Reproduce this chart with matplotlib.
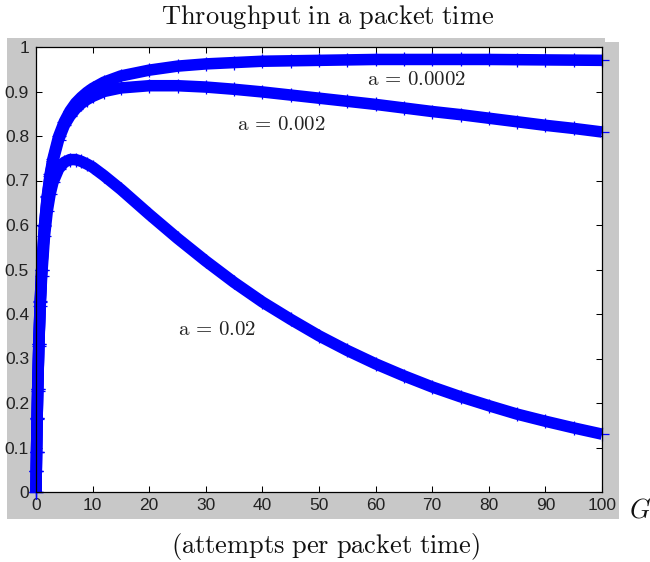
import matplotlib
matplotlib.use("Agg")
import matplotlib.pyplot as plt
from matplotlib.patches import Rectangle

plt.rcParams['mathtext.fontset'] = 'cm'

# Offered load G (attempts per packet time)
G = [0, 0.05, 0.1, 0.2, 0.3, 0.5, 0.75, 1, 1.5, 2, 2.5, 3, 4, 5, 6, 7, 8, 9, 10,
     12, 15, 20, 25, 30, 35, 40, 45, 50, 55, 60, 65, 70, 75, 80, 85, 90, 95, 100]

# Throughput, one series per value of a
S_a0002 = [0, 0.048, 0.091, 0.167, 0.231, 0.333, 0.429, 0.500, 0.600, 0.666,
           0.714, 0.749, 0.799, 0.832, 0.856, 0.874, 0.887, 0.898, 0.907, 0.921,
           0.935, 0.948, 0.957, 0.962, 0.965, 0.968, 0.969, 0.970, 0.971, 0.972,
           0.972, 0.972, 0.972, 0.972, 0.9715, 0.971, 0.9705, 0.970]
S_a002 = [0, 0.048, 0.091, 0.167, 0.231, 0.333, 0.428, 0.499, 0.598, 0.663,
          0.710, 0.744, 0.792, 0.824, 0.845, 0.861, 0.873, 0.882, 0.889, 0.900,
          0.908, 0.913, 0.913, 0.910, 0.905, 0.899, 0.892, 0.885, 0.878, 0.871,
          0.863, 0.855, 0.848, 0.840, 0.832, 0.824, 0.817, 0.809]
S_a02 = [0, 0.048, 0.091, 0.165, 0.228, 0.328, 0.419, 0.485, 0.575, 0.632,
         0.670, 0.696, 0.726, 0.741, 0.747, 0.747, 0.743, 0.737, 0.730, 0.711,
         0.680, 0.624, 0.570, 0.519, 0.471, 0.427, 0.388, 0.351, 0.318, 0.288,
         0.261, 0.236, 0.214, 0.194, 0.175, 0.159, 0.144, 0.130]

series = [S_a0002, S_a002, S_a02]
labels = [r'$\mathrm{a}\,{=}\,0.0002$', r'$\mathrm{a}\,{=}\,0.002$', r'$\mathrm{a}\,{=}\,0.02$']
label_pos = [(67.2, 0.928), (43.3, 0.827), (32.0, 0.366)]

xticks = [0, 10, 20, 30, 40, 50, 60, 70, 80, 90, 100]
yticks = [0, 0.1, 0.2, 0.3, 0.4, 0.5, 0.6, 0.7, 0.8, 0.9, 1]
ytick_labels = ['0', '0.1', '0.2', '0.3', '0.4', '0.5', '0.6', '0.7', '0.8', '0.9', '1']

W, H = 650, 562
fig = plt.figure(figsize=(6.5, 5.62), dpi=100)
fig.patch.set_facecolor('white')

gray = '#c8c8c8'
fig.patches.append(Rectangle((7 / W, 1 - 519 / H), (605 - 7) / W, (519 - 38) / H,
                             transform=fig.transFigure, facecolor=gray,
                             edgecolor='none', zorder=-10))
fig.patches.append(Rectangle((605 / W, 1 - 519 / H), (619 - 605) / W, (519 - 42) / H,
                             transform=fig.transFigure, facecolor=gray,
                             edgecolor='none', zorder=-10))

ax = fig.add_axes([36 / W, 1 - 492 / H, (602 - 36) / W, (492 - 47) / H])
ax.set_zorder(5)
ax.set_facecolor('white')

for s in series:
    ax.plot(G, s, color='#0000ff', linewidth=8.3, solid_capstyle='butt',
            solid_joinstyle='round', marker='+', markersize=10, markeredgewidth=0.9,
            clip_on=False, zorder=3)

for txt, (x, y) in zip(labels, label_pos):
    ax.text(x, y, txt, fontsize=15, ha='center', va='center', color='#222222', zorder=4)

ax.set_xlim(0, 100)
ax.set_ylim(0, 1)
ax.set_xticks(xticks)
ax.set_yticks(yticks)
ax.set_yticklabels(ytick_labels)
ax.tick_params(direction='in', length=4.3, width=0.75, color='black',
               top=True, right=True, labelsize=12.5, labelcolor='#222222')
ax.tick_params(axis='x', pad=4)
ax.tick_params(axis='y', pad=5)
for lab in ax.get_xticklabels() + ax.get_yticklabels():
    lab.set_fontfamily('Liberation Sans')
for sp in ax.spines.values():
    sp.set_linewidth(0.9)
    sp.set_color('black')
    sp.set_zorder(5)

fig.text(327.5 / W, 1 - 17 / H, r'$\mathrm{Throughput\ in\ a\ packet\ time}$',
         fontsize=19, ha='center', va='center', color='#111111')
fig.text(326 / W, 1 - 546 / H, r'$\mathrm{(attempts\ per\ packet\ time)}$',
         fontsize=19, ha='center', va='center', color='#111111')
fig.text(640 / W, 1 - 510 / H, r'$G$', fontsize=19, ha='center', va='center',
         color='#111111')

fig.savefig('out.png', dpi=100, facecolor='white')
